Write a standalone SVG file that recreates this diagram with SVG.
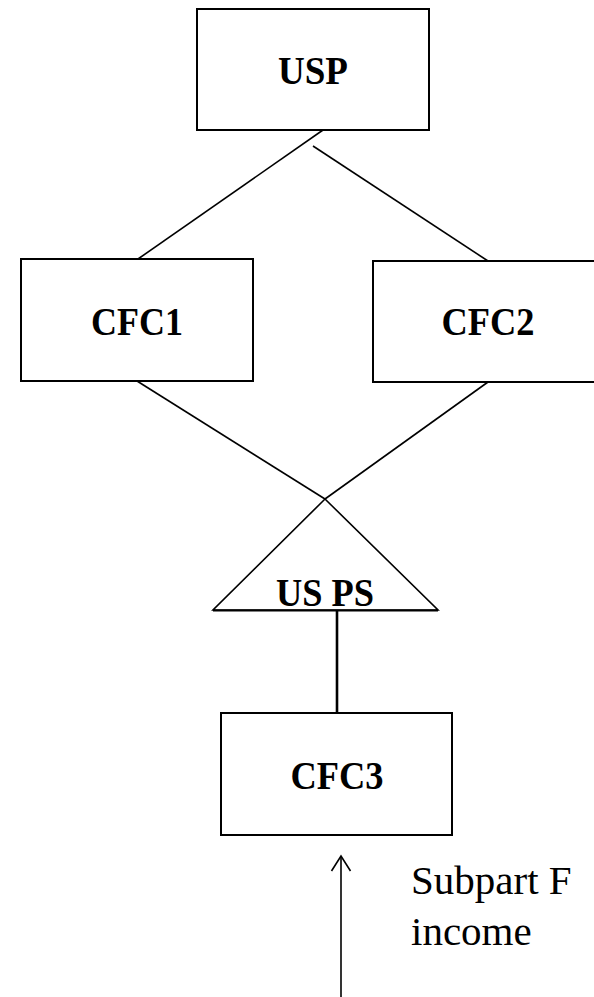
<svg xmlns="http://www.w3.org/2000/svg" width="594" height="997" viewBox="0 0 594 997">
<style>
.box{fill:#fff;stroke:#000;stroke-width:2}
.lbl{font-family:"Liberation Serif","Times New Roman",serif;font-weight:bold;font-size:39px;text-anchor:middle;fill:#000}
.note{font-family:"Liberation Serif","Times New Roman",serif;font-size:41px;fill:#000}
.ln{stroke:#000;stroke-width:1.6;fill:none}
</style>
<rect width="594" height="997" fill="#fff"/>
<g id="connectors">
<line class="ln" x1="323" y1="130" x2="138" y2="259"/>
<line class="ln" x1="313" y1="146" x2="488" y2="261"/>
<line class="ln" x1="137" y1="381" x2="325" y2="499"/>
<line class="ln" x1="488" y1="382" x2="325" y2="499"/>
<line x1="337" y1="611" x2="337" y2="713" stroke="#000" stroke-width="2.6"/>
</g>
<g id="USP">
<rect class="box" x="197" y="9" width="232" height="121"/>
<text class="lbl" x="313" y="84" textLength="70" lengthAdjust="spacingAndGlyphs">USP</text>
</g>
<g id="CFC1">
<rect class="box" x="21" y="259" width="232" height="122"/>
<text class="lbl" x="137" y="335" textLength="92" lengthAdjust="spacingAndGlyphs">CFC1</text>
</g>
<g id="CFC2">
<rect class="box" x="373" y="261" width="231" height="121"/>
<text class="lbl" x="488" y="335" textLength="93" lengthAdjust="spacingAndGlyphs">CFC2</text>
</g>
<g id="USPS">
<path d="M325 499 L438 610 L213 610 Z" fill="#fff" stroke="#000" stroke-width="1.6" stroke-linejoin="miter"/>
<line x1="213" y1="610.5" x2="438" y2="610.5" stroke="#000" stroke-width="2.2"/>
<text class="lbl" x="325" y="606" textLength="98" lengthAdjust="spacingAndGlyphs">US PS</text>
</g>
<g id="CFC3">
<rect class="box" x="221" y="713" width="231" height="122"/>
<text class="lbl" x="337" y="789" textLength="93" lengthAdjust="spacingAndGlyphs">CFC3</text>
</g>
<g id="note">
<line class="ln" x1="341" y1="856" x2="341" y2="997"/>
<path class="ln" d="M331.5 871 L341 856 L350.5 871"/>
<text class="note" x="411" y="894">Subpart F</text>
<text class="note" x="411" y="945">income</text>
</g>
</svg>
